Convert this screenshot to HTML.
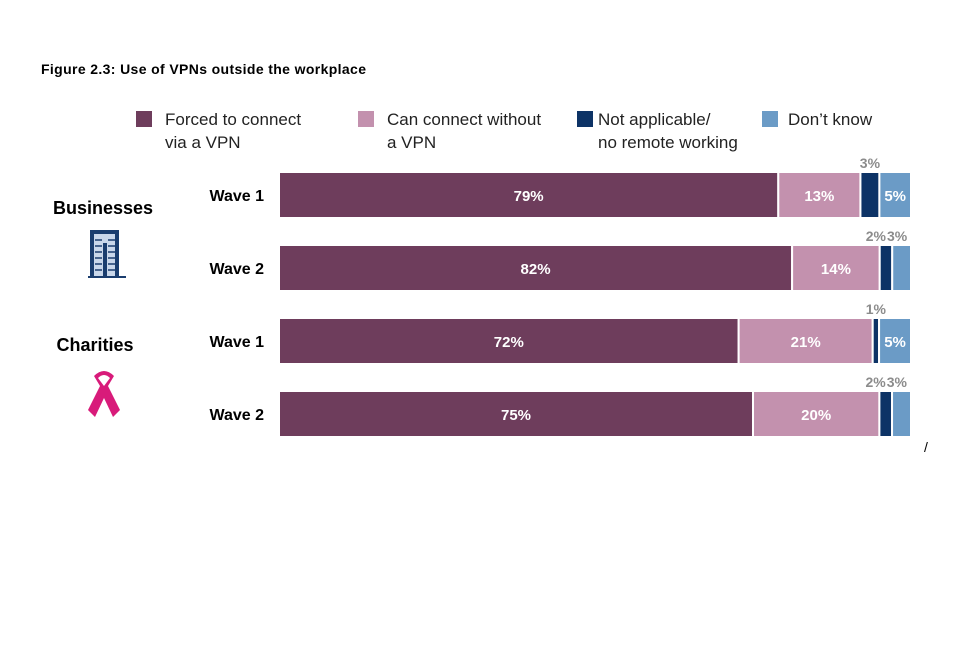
<!DOCTYPE html>
<html><head><meta charset="utf-8"><style>
body{margin:0;background:#fff;width:960px;height:640px;overflow:hidden;font-family:"Liberation Sans",Arial,sans-serif}
</style></head><body>
<svg width="960" height="640" xmlns="http://www.w3.org/2000/svg">
<text x="41" y="74" font-size="14" font-weight="bold" fill="#000" textLength="325">Figure 2.3: Use of VPNs outside the workplace</text>
<g id="legend"></g>
<g id="groups">
<text x="103" y="214" font-size="18" font-weight="bold" text-anchor="middle">Businesses</text>
<text x="95" y="351" font-size="18" font-weight="bold" text-anchor="middle">Charities</text>
<g>
<rect x="90" y="230" width="29" height="47" fill="#1a3d6e"/>
<rect x="94" y="234" width="21" height="43" fill="#c9d7ea"/>
<rect x="103" y="243" width="4" height="34" fill="#1a3d6e"/>
<path d="M95 240h7M95 246h7M95 252h7M95 258h7M95 264h7M95 270h7M108 240h7M108 246h7M108 252h7M108 258h7M108 264h7M108 270h7" stroke="#1a3d6e" stroke-width="1.5"/>
<rect x="88" y="276" width="38" height="2" fill="#1a3d6e"/>
</g>
<g>
<path d="M94 376 Q104 366 114 376 L108 386 L120 410 L113 417 L104 398 L95 417 L88 410 L100 386 Z" fill="#d81b7a"/>
<path d="M98 378 Q104 372 110 378 L104 386 Z" fill="#fff"/>
</g>
</g>
<g id="bars"></g>
<text x="924" y="452" font-size="14" fill="#000">/</text>
</svg>
<script>
const categories = ["Wave 1","Wave 2","Wave 1","Wave 2"];
const forced = [79,82,72,75];
const canConnect = [13,14,21,20];
const notApplicable = [3,2,1,2];
const dontKnow = [5,3,5,3];
const seriesNames = ["Forced to connect via a VPN","Can connect without a VPN","Not applicable/ no remote working","Don't know"];
const colors = ["#6e3d5c","#c391ae","#0d3366","#6b9bc6"];
const series=[forced,canConnect,notApplicable,dontKnow];
const NS="http://www.w3.org/2000/svg";
const x0=279,x1=911,rowY=[172,245,318,391],barH=46;
const bars=document.getElementById('bars');
function mk(t,a,p){const e=document.createElementNS(NS,t);for(const k in a)e.setAttribute(k,a[k]);p.appendChild(e);return e;}
categories.forEach((c,i)=>{
  const y=rowY[i];
  const lab=mk('text',{x:264,y:y+barH/2+6,'font-size':16,'font-weight':'bold','text-anchor':'end'},bars);
  lab.textContent=c;
  
  
  let total=0;series.forEach(s=>total+=s[i]);
  const sc=v=>v/total*(x1-x0);
  let cx=x0;
  let prevCenter=0;
  series.forEach((s,j)=>{
    const w=sc(s[i]);
    const r=mk('rect',{x:cx,y:y,width:w,height:barH,fill:colors[j],stroke:'#fff','stroke-width':2},bars);
    
    
    const t=mk('text',{x:cx+w/2,'font-size':15,'font-weight':'bold','text-anchor':'middle'},bars);
    const small=v=>v!==undefined&&v<5;
    if(s[i]>=5){t.setAttribute('y',y+barH/2+6);t.setAttribute('fill','#fff');}
    else{
      t.setAttribute('y',y-4);t.setAttribute('fill','#8c8c8c');t.setAttribute('font-size',14);
      const nxt=series[j+1]?series[j+1][i]:undefined, prv=j>0?series[j-1][i]:undefined;
      if(small(nxt)){t.setAttribute('text-anchor','end');t.setAttribute('x',cx+w/2);}
      else if(small(prv)){t.setAttribute('text-anchor','start');t.setAttribute('x',prevCenter+1);}
    }
    t.textContent=s[i]+'%';
    
    
    prevCenter=cx+w/2;
    cx+=w;
  });
});
const lg=document.getElementById('legend');
const lx=[136,358,577,762],tx=[165,387,598,788];
const lines=[["Forced to connect","via a VPN"],["Can connect without","a VPN"],["Not applicable/","no remote working"],["Don’t know"]];
lines.forEach((l,j)=>{
  const r=mk('rect',{x:lx[j],y:111,width:16,height:16,fill:colors[j]},lg);
  
  
  l.forEach((s,k)=>{
    const t=mk('text',{x:tx[j],y:125+k*23,'font-size':17,fill:'#222'},lg);
    t.textContent=s;
    
    
  });
});
</script>
</body></html>
